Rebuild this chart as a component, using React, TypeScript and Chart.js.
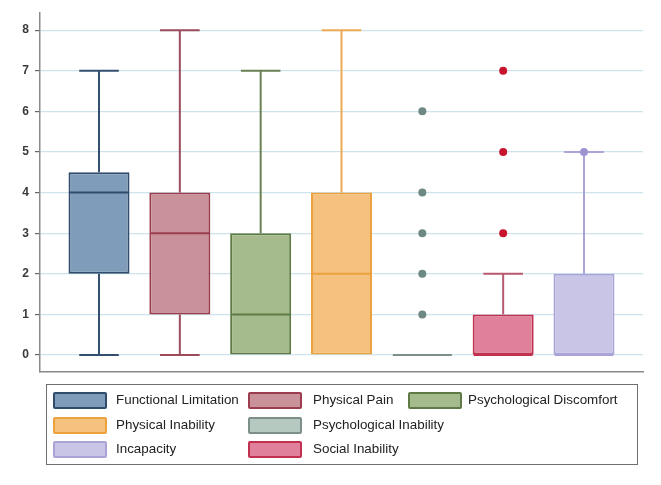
import React, { useEffect, useRef } from "react";
import { Chart, registerables } from "chart.js";

Chart.register(...registerables);

// ---- data ----
const categories = [
  "Functional Limitation",
  "Physical Pain",
  "Psychological Discomfort",
  "Physical Inability",
  "Psychological Inability",
  "Social Inability",
  "Incapacity",
];
const whiskerLow = [0, 0, 0, 0, 0, 0, 0];
const quartile1 = [2, 1, 0, 0, 0, 0, 0];
const medians = [4, 3, 1, 2, 0, 0, 0];
const quartile3 = [4.5, 4, 3, 4, 0, 1, 2];
const whiskerHigh = [7, 8, 7, 8, 0, 2, 5];
const outliers: number[][] = [[], [], [], [], [1, 2, 3, 4, 6], [3, 5, 7], [5]];
const yTickValues = [0, 1, 2, 3, 4, 5, 6, 7, 8];

// ---- styles ----
const fillColors = ["#7f9cba", "#c9919a", "#a5bb8d", "#f4c17e", "#b5c9c1", "#e1809a", "#c9c5e7"];
const lineColors = ["#2f4c6d", "#9c3d4e", "#5e7a45", "#eba13e", "#7c8f89", "#c0304f", "#aaa3d8"];
const whiskerColors = ["#34506f", "#9b4b5a", "#6a8152", "#eeaa52", "#7c8f89", "#b8596f", "#aaa3d8"];
const dotColors = ["#34506f", "#9b4b5a", "#6a8152", "#eba13e", "#6e8983", "#c8152f", "#9d95d0"];
// legend slot (row, column) per category
const legendRow = [0, 0, 0, 1, 1, 2, 2];
const legendCol = [0, 1, 2, 0, 1, 1, 0];

const BOX_HALF = 0.3775;
const CAP_HALF = 0.245;

const boxPlugin = {
  id: "boxWhiskers",
  afterDatasetDraw(chart: any, args: any) {
    if (args.index !== 1) return;
    const { ctx } = chart;
    const x = chart.scales.x;
    const y = chart.scales.y;
    ctx.save();
    ctx.lineWidth = 2;
    ctx.lineCap = "butt";
    const seg = (x1: number, y1: number, x2: number, y2: number) => {
      ctx.beginPath();
      ctx.moveTo(x1, y1);
      ctx.lineTo(x2, y2);
      ctx.stroke();
    };
    categories.forEach((_, i) => {
      const cx = x.getPixelForValue(i);
      const bh = x.getPixelForValue(i + BOX_HALF) - cx;
      const ch = x.getPixelForValue(i + CAP_HALF) - cx;
      ctx.strokeStyle = whiskerColors[i];
      if (whiskerHigh[i] > quartile3[i]) {
        seg(cx, y.getPixelForValue(quartile3[i]), cx, y.getPixelForValue(whiskerHigh[i]));
        seg(cx - ch, y.getPixelForValue(whiskerHigh[i]), cx + ch, y.getPixelForValue(whiskerHigh[i]));
      }
      if (whiskerLow[i] < quartile1[i]) {
        seg(cx, y.getPixelForValue(quartile1[i]), cx, y.getPixelForValue(whiskerLow[i]));
        seg(cx - ch, y.getPixelForValue(whiskerLow[i]), cx + ch, y.getPixelForValue(whiskerLow[i]));
      }
      ctx.strokeStyle = lineColors[i];
      seg(cx - bh + 1, y.getPixelForValue(medians[i]), cx + bh - 1, y.getPixelForValue(medians[i]));
    });
    ctx.restore();
  },
};

const outlierPoints: { x: number; y: number }[] = [];
const outlierColors: string[] = [];
outliers.forEach((vals, i) =>
  vals.forEach((v) => {
    outlierPoints.push({ x: i, y: v });
    outlierColors.push(dotColors[i]);
  })
);

const FONT = '"Liberation Sans", Arial, sans-serif';
const ROW_Y = [400, 425, 449];
const SWATCH_X = [53, 248, 408];
const TEXT_X = [116, 313, 468];

export default function App() {
  const ref = useRef<HTMLCanvasElement | null>(null);

  useEffect(() => {
    if (!ref.current) return;
    const chart = new Chart(ref.current, {
      type: "bar",
      data: {
        datasets: [
          {
            type: "scatter",
            label: "outliers",
            data: outlierPoints,
            pointBackgroundColor: outlierColors,
            pointBorderColor: outlierColors,
            pointRadius: 4,
            pointBorderWidth: 0,
            showLine: false,
          } as any,
          {
            type: "bar",
            label: "boxes",
            data: categories.map((_, i) => ({ x: i, y: [quartile1[i], quartile3[i]] })),
            backgroundColor: fillColors,
            borderColor: lineColors,
            borderWidth: 2,
            borderSkipped: false,
            grouped: false,
            categoryPercentage: 1,
            barPercentage: 0.755,
          } as any,
        ],
      },
      options: {
        animation: false,
        responsive: false,
        layout: { padding: { left: 0, top: 12, right: 18, bottom: 113 } },
        plugins: { legend: { display: false }, tooltip: { enabled: false } },
        scales: {
          x: {
            type: "linear",
            min: -0.73,
            max: 6.73,
            offset: false,
            afterBuildTicks: (s: any) => {
              s.ticks = categories.map((_, i) => ({ value: i }));
            },
            grid: { display: false },
            ticks: { display: false },
            border: { display: true, color: "#8a8a8a", width: 1.5 },
            afterFit: (s: any) => {
              s.height = 0;
            },
          },
          y: {
            type: "linear",
            min: -0.417,
            max: 8.417,
            afterBuildTicks: (s: any) => {
              s.ticks = yTickValues.map((v) => ({ value: v }));
            },
            afterFit: (s: any) => {
              s.width = 40;
            },
            grid: {
              color: "#cfe3ed",
              lineWidth: 1.2,
              tickColor: "#666",
              tickLength: 5,
              drawTicks: true,
            },
            border: { display: true, color: "#8a8a8a", width: 1.5 },
            ticks: {
              padding: 6,
              color: "#3a3a3a",
              font: { family: FONT, size: 12, weight: "bold" },
            },
          },
        },
      },
      plugins: [boxPlugin],
    } as any);
    return () => chart.destroy();
  }, []);

  return (
    <div style={{ position: "fixed", left: 0, top: 0, width: 661, height: 485, background: "#fff" }}>
      <canvas ref={ref} width={661} height={485} style={{ position: "absolute", left: 0, top: 0 }} />
      <div
        style={{
          position: "absolute",
          left: 46,
          top: 384,
          width: 592,
          height: 81,
          border: "1px solid #707070",
          boxSizing: "border-box",
        }}
      />
      {categories.map((name, i) => (
        <React.Fragment key={name}>
          <div
            style={{
              position: "absolute",
              left: SWATCH_X[legendCol[i]],
              top: ROW_Y[legendRow[i]] - 8.5,
              width: 54,
              height: 17,
              background: fillColors[i],
              border: `2px solid ${lineColors[i]}`,
              boxSizing: "border-box",
              borderRadius: 2,
            }}
          />
          <span
            style={{
              position: "absolute",
              left: TEXT_X[legendCol[i]],
              top: ROW_Y[legendRow[i]] - 9,
              font: `13.4px ${FONT}`,
              lineHeight: "18px",
              color: "#222",
              whiteSpace: "nowrap",
            }}
          >
            {name}
          </span>
        </React.Fragment>
      ))}
    </div>
  );
}
